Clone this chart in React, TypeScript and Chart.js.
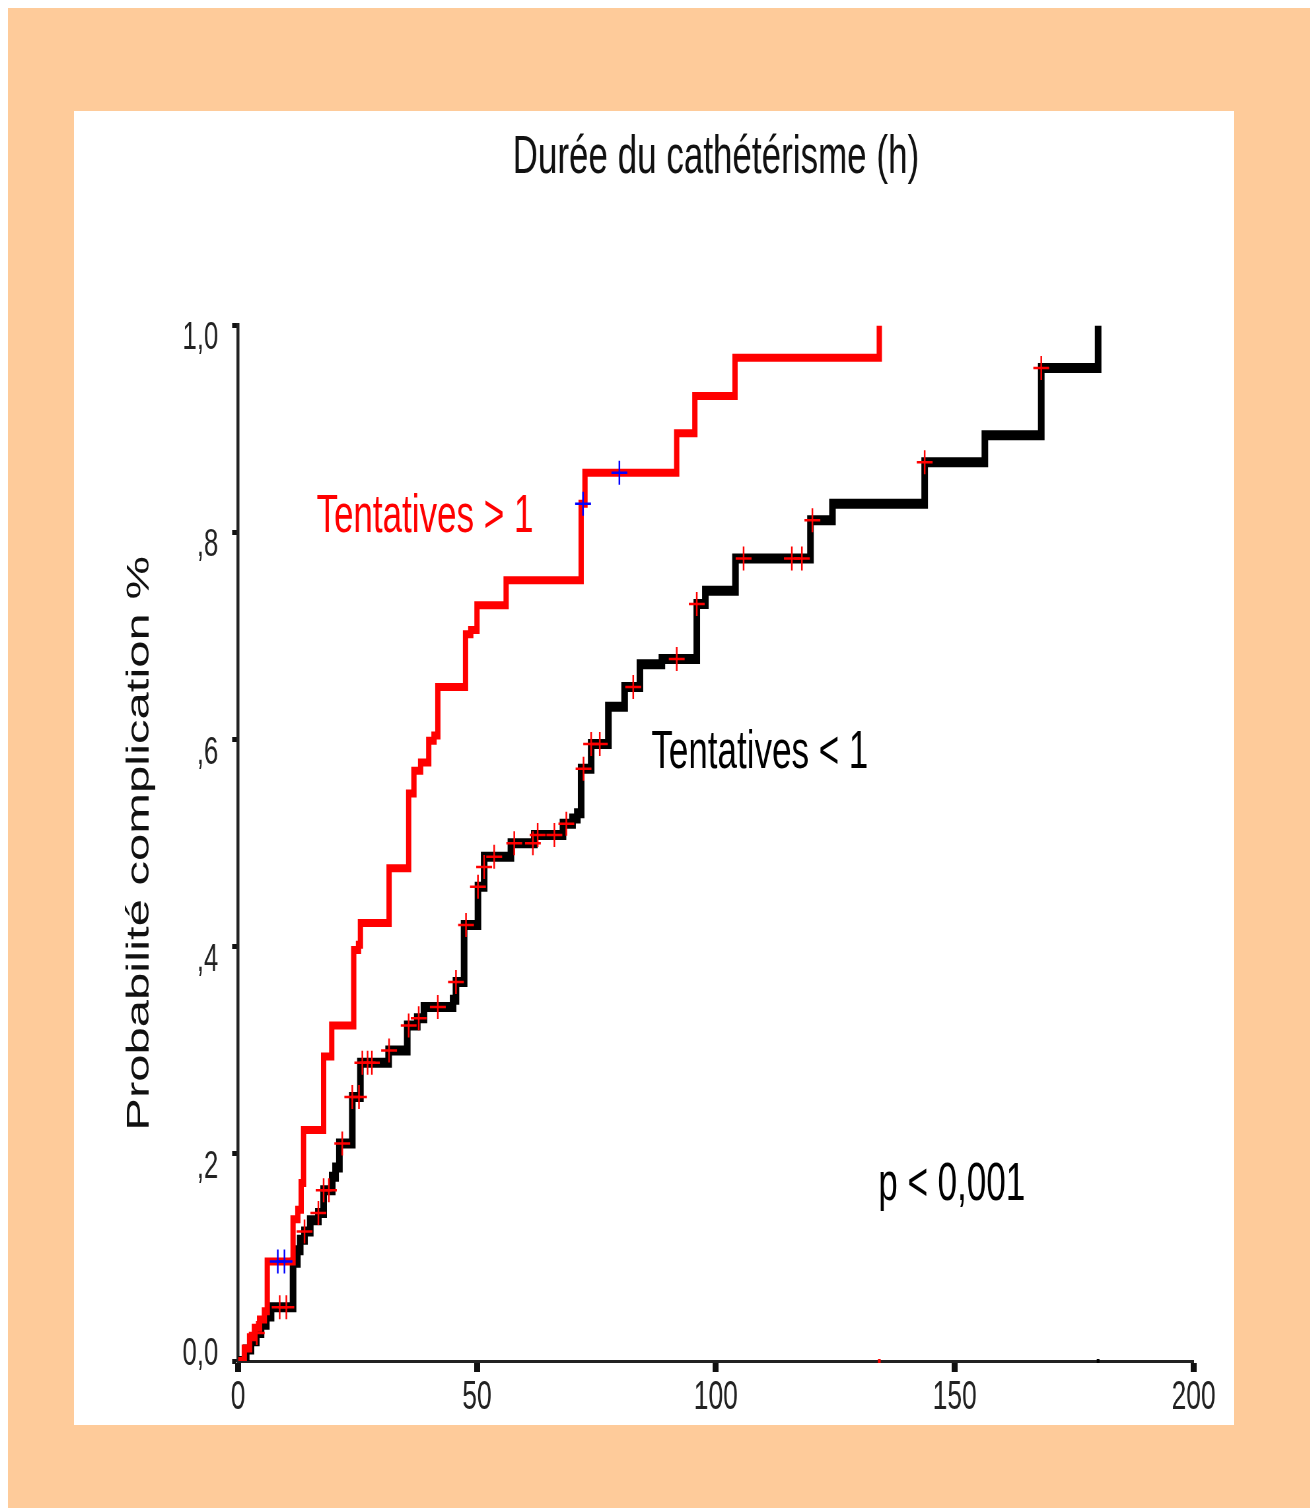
import React, { useEffect, useRef } from "react";
import { Chart, registerables } from "chart.js";

Chart.register(...registerables);

// ---- data ----
const xTickLabels = ["0", "50", "100", "150", "200"];
const yTickLabels = ["0,0", ",2", ",4", ",6", ",8", "1,0"];

// Tentatives > 1 (red Kaplan-Meier 1-S curve)
const redTimes = [0, 1.3, 2.4, 3.4, 4.5, 5.5, 6.1, 11.5, 12.5, 13.2, 13.7, 17.9, 19.6, 24.2, 25.2, 25.6, 31.6, 35.7, 36.8, 38.2, 39.9, 41.0, 41.8, 47.6, 48.7, 50.0, 56.1, 71.8, 72.6, 91.8, 95.6, 104.0, 134.2];
const redProb = [0, 0.012, 0.023, 0.032, 0.04, 0.048, 0.096, 0.137, 0.146, 0.172, 0.223, 0.294, 0.324, 0.397, 0.402, 0.423, 0.476, 0.548, 0.57, 0.578, 0.599, 0.604, 0.651, 0.702, 0.706, 0.73, 0.754, 0.828, 0.858, 0.896, 0.932, 0.969, 1.0];
const redCensorTimes = [8.3, 9.7, 72.2, 79.8];
const redCensorProb = [0.096, 0.096, 0.828, 0.858];

// Tentatives < 1 (black curve)
const blackTimes = [0, 1.7, 2.7, 3.8, 4.8, 5.9, 6.9, 11.5, 12.4, 13.0, 13.9, 15.1, 16.8, 17.9, 19.7, 20.4, 21.2, 23.9, 25.6, 31.5, 35.4, 37.5, 38.9, 45.0, 45.6, 47.3, 50.2, 51.5, 57.1, 62.0, 68.0, 70.0, 71.0, 71.8, 73.9, 77.5, 80.9, 84.1, 88.7, 96.0, 97.8, 104.1, 119.8, 124.4, 143.7, 156.3, 168.1, 180.0];
const blackProb = [0, 0.011, 0.019, 0.027, 0.035, 0.043, 0.052, 0.095, 0.107, 0.117, 0.125, 0.136, 0.143, 0.165, 0.178, 0.187, 0.21, 0.255, 0.288, 0.3, 0.324, 0.331, 0.342, 0.349, 0.366, 0.421, 0.458, 0.487, 0.5, 0.508, 0.519, 0.524, 0.529, 0.572, 0.596, 0.632, 0.651, 0.673, 0.678, 0.731, 0.744, 0.775, 0.812, 0.828, 0.868, 0.894, 0.959, 1.0];
const blackCensorTimes = [3.9, 8.7, 10.1, 13.9, 16.8, 17.9, 19.0, 21.8, 23.9, 25.3, 26.0, 27.1, 28.0, 31.6, 35.7, 37.8, 41.8, 45.6, 47.7, 50.2, 51.5, 53.6, 57.8, 61.7, 62.7, 66.2, 68.7, 72.3, 73.9, 75.7, 82.7, 91.8, 96.0, 105.8, 115.9, 118.0, 120.2, 143.7, 168.1];
const blackCensorProb = [0.027, 0.052, 0.052, 0.125, 0.143, 0.165, 0.165, 0.21, 0.255, 0.255, 0.288, 0.288, 0.288, 0.3, 0.324, 0.331, 0.342, 0.366, 0.421, 0.458, 0.477, 0.487, 0.5, 0.5, 0.508, 0.508, 0.519, 0.572, 0.596, 0.596, 0.651, 0.678, 0.731, 0.775, 0.775, 0.775, 0.812, 0.868, 0.959];

// small end marks sitting on the time axis (end of each curve)
const endMarkTimes = [134.2, 180.0];
const endMarkColors = ["#ff0000", "#000000"];

const chartTitle = "Durée du cathétérisme (h)";
const yAxisTitle = "Probabilité complication %";
const curveLabels = [
  { text: "Tentatives > 1", t: 16.4, p: 0.815, color: "#ff0000" },
  { text: "Tentatives < 1", t: 86.5, p: 0.587, color: "#000000" },
  { text: "p < 0,001", t: 134.0, p: 0.17, color: "#000000" },
];

// ---- layout ----
const FONT = "'Liberation Sans', Arial, Helvetica, sans-serif";
const SQUEEZE = 0.66;
const PANEL_W = 1160;
const PANEL_H = 1314;
const CANVAS_W = PANEL_W / SQUEEZE;

const toXY = (ts: number[], ps: number[]) => ts.map((t, i) => ({ x: t, y: ps[i] }));

const labelPlugin = {
  id: "curveLabels",
  afterDatasetsDraw(chart: any) {
    const { ctx, scales } = chart;
    ctx.save();
    ctx.font = `53px ${FONT}`;
    ctx.textAlign = "left";
    ctx.textBaseline = "middle";
    for (const l of curveLabels) {
      ctx.fillStyle = l.color;
      ctx.fillText(l.text, scales.x.getPixelForValue(l.t), scales.y.getPixelForValue(l.p));
    }
    ctx.restore();
  },
};

export default function App() {
  const ref = useRef<HTMLCanvasElement | null>(null);

  useEffect(() => {
    if (!ref.current) return;
    const chart = new Chart(ref.current, {
      type: "line",
      data: {
        datasets: [
          {
            label: "censored >1",
            data: toXY(redCensorTimes, redCensorProb),
            showLine: false,
            pointStyle: "cross",
            pointRadius: 12,
            pointBorderWidth: 2.5,
            pointBorderColor: "#0000ff",
            borderColor: "#0000ff",
          },
          {
            label: "censored <1",
            data: toXY(blackCensorTimes, blackCensorProb),
            showLine: false,
            pointStyle: "cross",
            pointRadius: 12,
            pointBorderWidth: 2.5,
            pointBorderColor: "#ff0000",
            borderColor: "#ff0000",
          },
          {
            label: "end marks",
            data: endMarkTimes.map((t) => ({ x: t, y: 0 })),
            showLine: false,
            pointStyle: "rect",
            pointRadius: 3,
            pointBorderWidth: 0,
            pointBackgroundColor: endMarkColors,
            clip: 10,
          },
          {
            label: "Tentatives > 1",
            data: toXY(redTimes, redProb),
            stepped: true,
            borderColor: "#ff0000",
            borderWidth: 8,
            pointRadius: 0,
            fill: false,
            borderJoinStyle: "miter",
          },
          {
            label: "Tentatives < 1",
            data: toXY(blackTimes, blackProb),
            stepped: true,
            borderColor: "#000000",
            borderWidth: 10,
            pointRadius: 0,
            fill: false,
            borderJoinStyle: "miter",
          },
        ],
      },
      options: {
        animation: false,
        responsive: true,
        maintainAspectRatio: false,
        events: [],
        layout: { padding: { left: 0, right: CANVAS_W - (1193 - 74) / SQUEEZE, top: 0, bottom: 0 } },
        plugins: {
          legend: { display: false },
          tooltip: { enabled: false },
          title: {
            display: true,
            text: chartTitle,
            fullSize: false,
            color: "#111111",
            font: { family: FONT, size: 53, weight: "normal" },
            padding: { top: 16, bottom: 135 },
          },
        },
        scales: {
          x: {
            type: "linear",
            min: 0,
            max: 200,
            afterFit: (s: any) => {
              s.height = 64;
            },
            ticks: {
              stepSize: 50,
              color: "#222222",
              font: { family: FONT, size: 40 },
              padding: 2,
              maxRotation: 0,
              callback: (v: any) => xTickLabels[Math.round(Number(v) / 50)] ?? "",
            },
            grid: {
              drawOnChartArea: false,
              drawTicks: true,
              tickLength: 11,
              tickWidth: 9,
              tickColor: "#111111",
            },
            border: { display: true, color: "#222222", width: 3 },
          },
          y: {
            type: "linear",
            min: 0,
            max: 1,
            afterFit: (s: any) => {
              s.width = (238 - 74) / SQUEEZE;
            },
            ticks: {
              stepSize: 0.2,
              color: "#222222",
              font: (c: any) =>
                c.index === 0
                  ? { family: FONT, size: 39, lineHeight: 1.0 }
                  : { family: FONT, size: 39, lineHeight: 1.2 },
              padding: 21,
              labelOffset: 13,
              callback: (v: any) => {
                const i = Math.round(Number(v) * 5);
                const label = yTickLabels[i] ?? "";
                // the origin label sits above its tick, clear of the time axis
                return i === 0 ? [label, ""] : label;
              },
            },
            grid: {
              drawOnChartArea: false,
              drawTicks: true,
              tickLength: 9,
              tickWidth: 5,
              tickColor: "#111111",
            },
            border: { display: true, color: "#222222", width: 4.5 },
            title: {
              display: true,
              text: yAxisTitle,
              color: "#111111",
              font: { family: FONT, size: 49, weight: "normal" },
              padding: { top: 70, bottom: 0 },
            },
          },
        },
      },
      plugins: [labelPlugin],
    });
    return () => chart.destroy();
  }, []);

  return (
    <div
      style={{
        position: "absolute",
        left: 8,
        top: 8,
        width: 1302,
        height: 1500,
        background: "#fecb9a",
        overflow: "hidden",
      }}
    >
      <div
        style={{
          position: "absolute",
          left: 66,
          top: 103,
          width: PANEL_W,
          height: PANEL_H,
          background: "#ffffff",
          overflow: "hidden",
        }}
      >
        <div
          style={{
            position: "absolute",
            left: 0,
            top: 0,
            width: CANVAS_W,
            height: PANEL_H,
            transform: `scaleX(${SQUEEZE})`,
            transformOrigin: "0 0",
          }}
        >
          <canvas ref={ref} />
        </div>
      </div>
    </div>
  );
}
